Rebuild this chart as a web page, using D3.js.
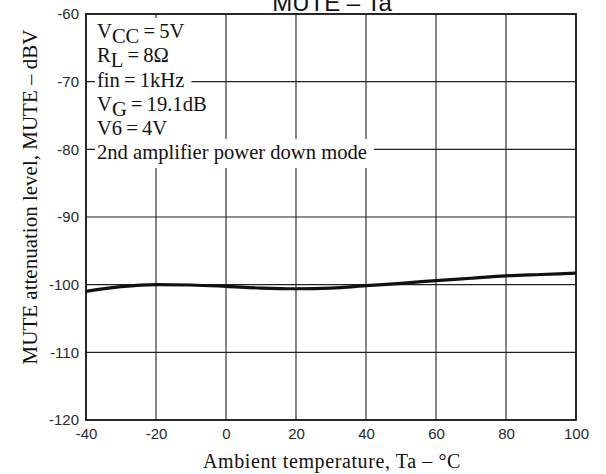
<!DOCTYPE html>
<html><head><meta charset="utf-8">
<script src="https://cdn.jsdelivr.net/npm/d3@7"></script>
<style>body{margin:0;background:#fff}svg{display:block}</style>
</head><body>
<svg id="c" width="606" height="474"></svg>
<script>
const temps = [-40,-30,-20,-10,0,10,20,30,40,50,60,70,80,90,100];
const mute  = [-101.0,-100.3,-100.0,-100.05,-100.25,-100.5,-100.6,-100.5,-100.15,-99.8,-99.4,-99.05,-98.7,-98.5,-98.3];
const xTicks = [-40,-20,0,20,40,60,80,100];
const yTicks = [-60,-70,-80,-90,-100,-110,-120];
const title = "MUTE – Ta";
const xLabel = "Ambient temperature, Ta – °C";
const yLabel = "MUTE attenuation level, MUTE – dBV";

const svg = d3.select("#c");
const L=86,R=576,T=14,B=420;
const x = d3.scaleLinear().domain([-40,100]).range([L,R]);
const y = d3.scaleLinear().domain([-120,-60]).range([B,T]);
const SANS = "Liberation Sans, Arial, sans-serif";
const SERIF = "Liberation Serif, Times New Roman, serif";

// grid
svg.append("g").selectAll("line").data(xTicks.slice(1,-1)).join("line")
  .attr("x1",d=>x(d)).attr("x2",d=>x(d)).attr("y1",T).attr("y2",B)
  .attr("stroke","#222").attr("stroke-width",1.1);
svg.append("g").selectAll("line").data(yTicks.slice(1,-1)).join("line")
  .attr("y1",d=>y(d)).attr("y2",d=>y(d)).attr("x1",L).attr("x2",R)
  .attr("stroke","#222").attr("stroke-width",1.1);

// axes (labels only)
const xa = svg.append("g").attr("transform",`translate(0,${B})`)
  .call(d3.axisBottom(x).tickValues(xTicks).tickSize(0).tickPadding(8).tickFormat(d=>String(d)));
const ya = svg.append("g").attr("transform",`translate(${L},0)`)
  .call(d3.axisLeft(y).tickValues(yTicks).tickSize(0).tickPadding(7).tickFormat(d=>String(d)));
[xa,ya].forEach(a=>{
  a.select(".domain").remove();
  a.attr("font-family",null).attr("font-size",null);
  a.selectAll("text").attr("font-family",SANS).attr("font-size",15).attr("fill","#2a2a2a");
});

// annotation lines with white backgrounds
const ann = [
  [["V",""],["CC","sub"],["\u2009=\u20095V",""]],
  [["R",""],["L","sub"],["\u2009=\u20098Ω",""]],
  [["fin\u2009=\u20091kHz",""]],
  [["V",""],["G","sub"],["\u2009=\u200919.1dB",""]],
  [["V6\u2009=\u20094V",""]],
  [["2nd amplifier power down mode",""]]
];
const annBase = [38,62,87,111,135,159];
const rg = svg.append("g");
const tg = svg.append("g");
ann.forEach((parts,i)=>{
  const rect = rg.append("rect").attr("fill","#fff");
  const t = tg.append("text").attr("x",97).attr("y",annBase[i])
    .attr("font-family",SERIF).attr("font-size",20.6).attr("fill","#111");
  let prevSub = false;
  parts.forEach(([s,k])=>{
    const ts = t.append("tspan").text(s);
    if(k==="sub"){ ts.attr("dy",5); prevSub = true; }
    else if(prevSub){ ts.attr("dy",-5); prevSub = false; }
  });
  const bb = t.node().getBBox();
  const top = annBase[i]-20;
  const bot = i===ann.length-1 ? annBase[i]+9 : annBase[i+1]-20;
  rect.attr("x",95).attr("y",top).attr("width",bb.x+bb.width+7-95).attr("height",bot-top);
});

// curve
svg.append("path").datum(temps.map((t,i)=>[t,mute[i]]))
  .attr("d",d3.line().x(d=>x(d[0])).y(d=>y(d[1])).curve(d3.curveMonotoneX))
  .attr("fill","none").attr("stroke","#111").attr("stroke-width",3.2);

// frame
svg.append("rect").attr("x",L).attr("y",T).attr("width",R-L).attr("height",B-T)
  .attr("fill","none").attr("stroke","#111").attr("stroke-width",1.8);

// title & labels
svg.append("text").attr("x",332).attr("y",11).attr("text-anchor","middle")
  .attr("font-family",SANS).attr("font-size",24).attr("fill","#111").text(title);
svg.append("text").attr("x",332).attr("y",468).attr("text-anchor","middle")
  .attr("font-family",SERIF).attr("font-size",20).attr("letter-spacing",0.6).attr("fill","#111").text(xLabel);
svg.append("text").attr("transform",`translate(37,197) rotate(-90)`).attr("text-anchor","middle")
  .attr("font-family",SERIF).attr("font-size",21).attr("fill","#111").text(yLabel);
</script>
</body></html>
